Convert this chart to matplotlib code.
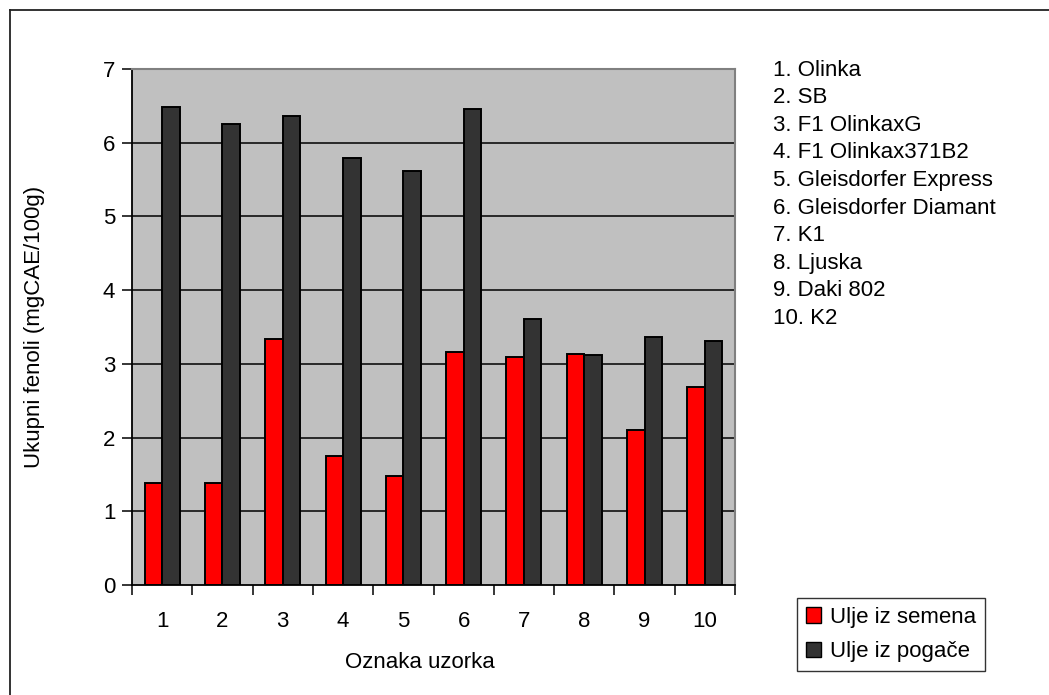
import matplotlib
matplotlib.use("Agg")
import matplotlib.pyplot as plt
from matplotlib.lines import Line2D
from matplotlib.patches import Patch
import numpy as np

plt.rcParams['font.family'] = ['Liberation Sans', 'DejaVu Sans']

# Sample numbers and measured total phenols
samples = [1, 2, 3, 4, 5, 6, 7, 8, 9, 10]
seed_oil = [1.39, 1.39, 3.34, 1.75, 1.48, 3.16, 3.09, 3.14, 2.10, 2.69]
cake_oil = [6.48, 6.26, 6.36, 5.79, 5.62, 6.46, 3.61, 3.12, 3.36, 3.31]
series_names = ["Ulje iz semena", "Ulje iz pogače"]
sample_names = ["Olinka", "SB", "F1 OlinkaxG", "F1 Olinkax371B2",
                "Gleisdorfer Express", "Gleisdorfer Diamant", "K1",
                "Ljuska", "Daki 802", "K2"]
y_ticks = [0, 1, 2, 3, 4, 5, 6, 7]

FS = 16
W, H = 1049, 695
fig = plt.figure(figsize=(W / 100, H / 100), dpi=100)
fig.patch.set_facecolor("white")

# outer chart frame
fig.add_artist(Line2D([10 / W, 10 / W], [0, 1 - 10 / H], transform=fig.transFigure,
                      color="#222222", lw=1.3))
fig.add_artist(Line2D([10 / W, 1], [1 - 10 / H, 1 - 10 / H], transform=fig.transFigure,
                      color="#222222", lw=1.3))

left, right, top, bottom = 132, 735, 69, 585
ax = fig.add_axes([left / W, 1 - bottom / H, (right - left) / W, (bottom - top) / H])
ax.set_facecolor("#C0C0C0")

x = np.array(samples, dtype=float)
bw = 0.29
ax.bar(x - bw / 2, seed_oil, width=bw, color="#FF0000", edgecolor="black",
       linewidth=1.4, zorder=3)
ax.bar(x + bw / 2, cake_oil, width=bw, color="#333333", edgecolor="black",
       linewidth=1.4, zorder=3)

ax.set_xlim(0.5, 10.5)
ax.set_ylim(0, 7)
ax.set_yticks(y_ticks)
ax.set_yticklabels([str(v) for v in y_ticks], fontsize=FS)
for v in y_ticks[1:-1]:
    ax.axhline(v, color="black", lw=1.1, zorder=1)

# category boundaries carry the tick marks, labels sit at the centres
ax.set_xticks(np.arange(0.5, 11, 1.0))
ax.set_xticklabels([])
ax.set_xticks(x, minor=True)
ax.set_xticklabels([str(s) for s in samples], minor=True, fontsize=FS)
ax.tick_params(axis="x", which="major", direction="out", length=7, width=1.1,
               color="black")
ax.tick_params(axis="x", which="minor", length=0, pad=19)
ax.tick_params(axis="y", direction="out", length=7, width=1.1, pad=5)

for side in ("left", "bottom"):
    ax.spines[side].set_color("black")
    ax.spines[side].set_linewidth(1.3)
for side in ("top", "right"):
    ax.spines[side].set_color("#808080")
    ax.spines[side].set_linewidth(1.5)

ax.set_xlabel("Oznaka uzorka", fontsize=FS)
ax.xaxis.set_label_coords((420 - left) / (right - left), -(662 - bottom) / (bottom - top))
ax.xaxis.label.set_va("center")
ax.set_ylabel("Ukupni fenoli (mgCAE/100g)", fontsize=FS)
ax.yaxis.set_label_coords(-(left - 35) / (right - left), 0.5)
ax.yaxis.label.set_va("center")

# numbered list of sample names
for i, name in enumerate(sample_names):
    fig.text(773 / W, 1 - (70 + i * 27.6) / H, f"{samples[i]}. {name}",
             fontsize=FS, va="center", ha="left")

handles = [Patch(facecolor="#FF0000", edgecolor="black", lw=1.0),
           Patch(facecolor="#333333", edgecolor="black", lw=1.0)]
leg = fig.legend(handles, series_names, loc="upper left",
                 bbox_to_anchor=(797 / W, 1 - 598 / H), fontsize=FS,
                 frameon=True, fancybox=False, handlelength=0.7, handleheight=0.7,
                 handletextpad=0.4, borderpad=0.4, labelspacing=0.6,
                 borderaxespad=0)
leg.get_frame().set_edgecolor("black")
leg.get_frame().set_linewidth(1.0)

fig.savefig("out.png", dpi=100, facecolor="white")
